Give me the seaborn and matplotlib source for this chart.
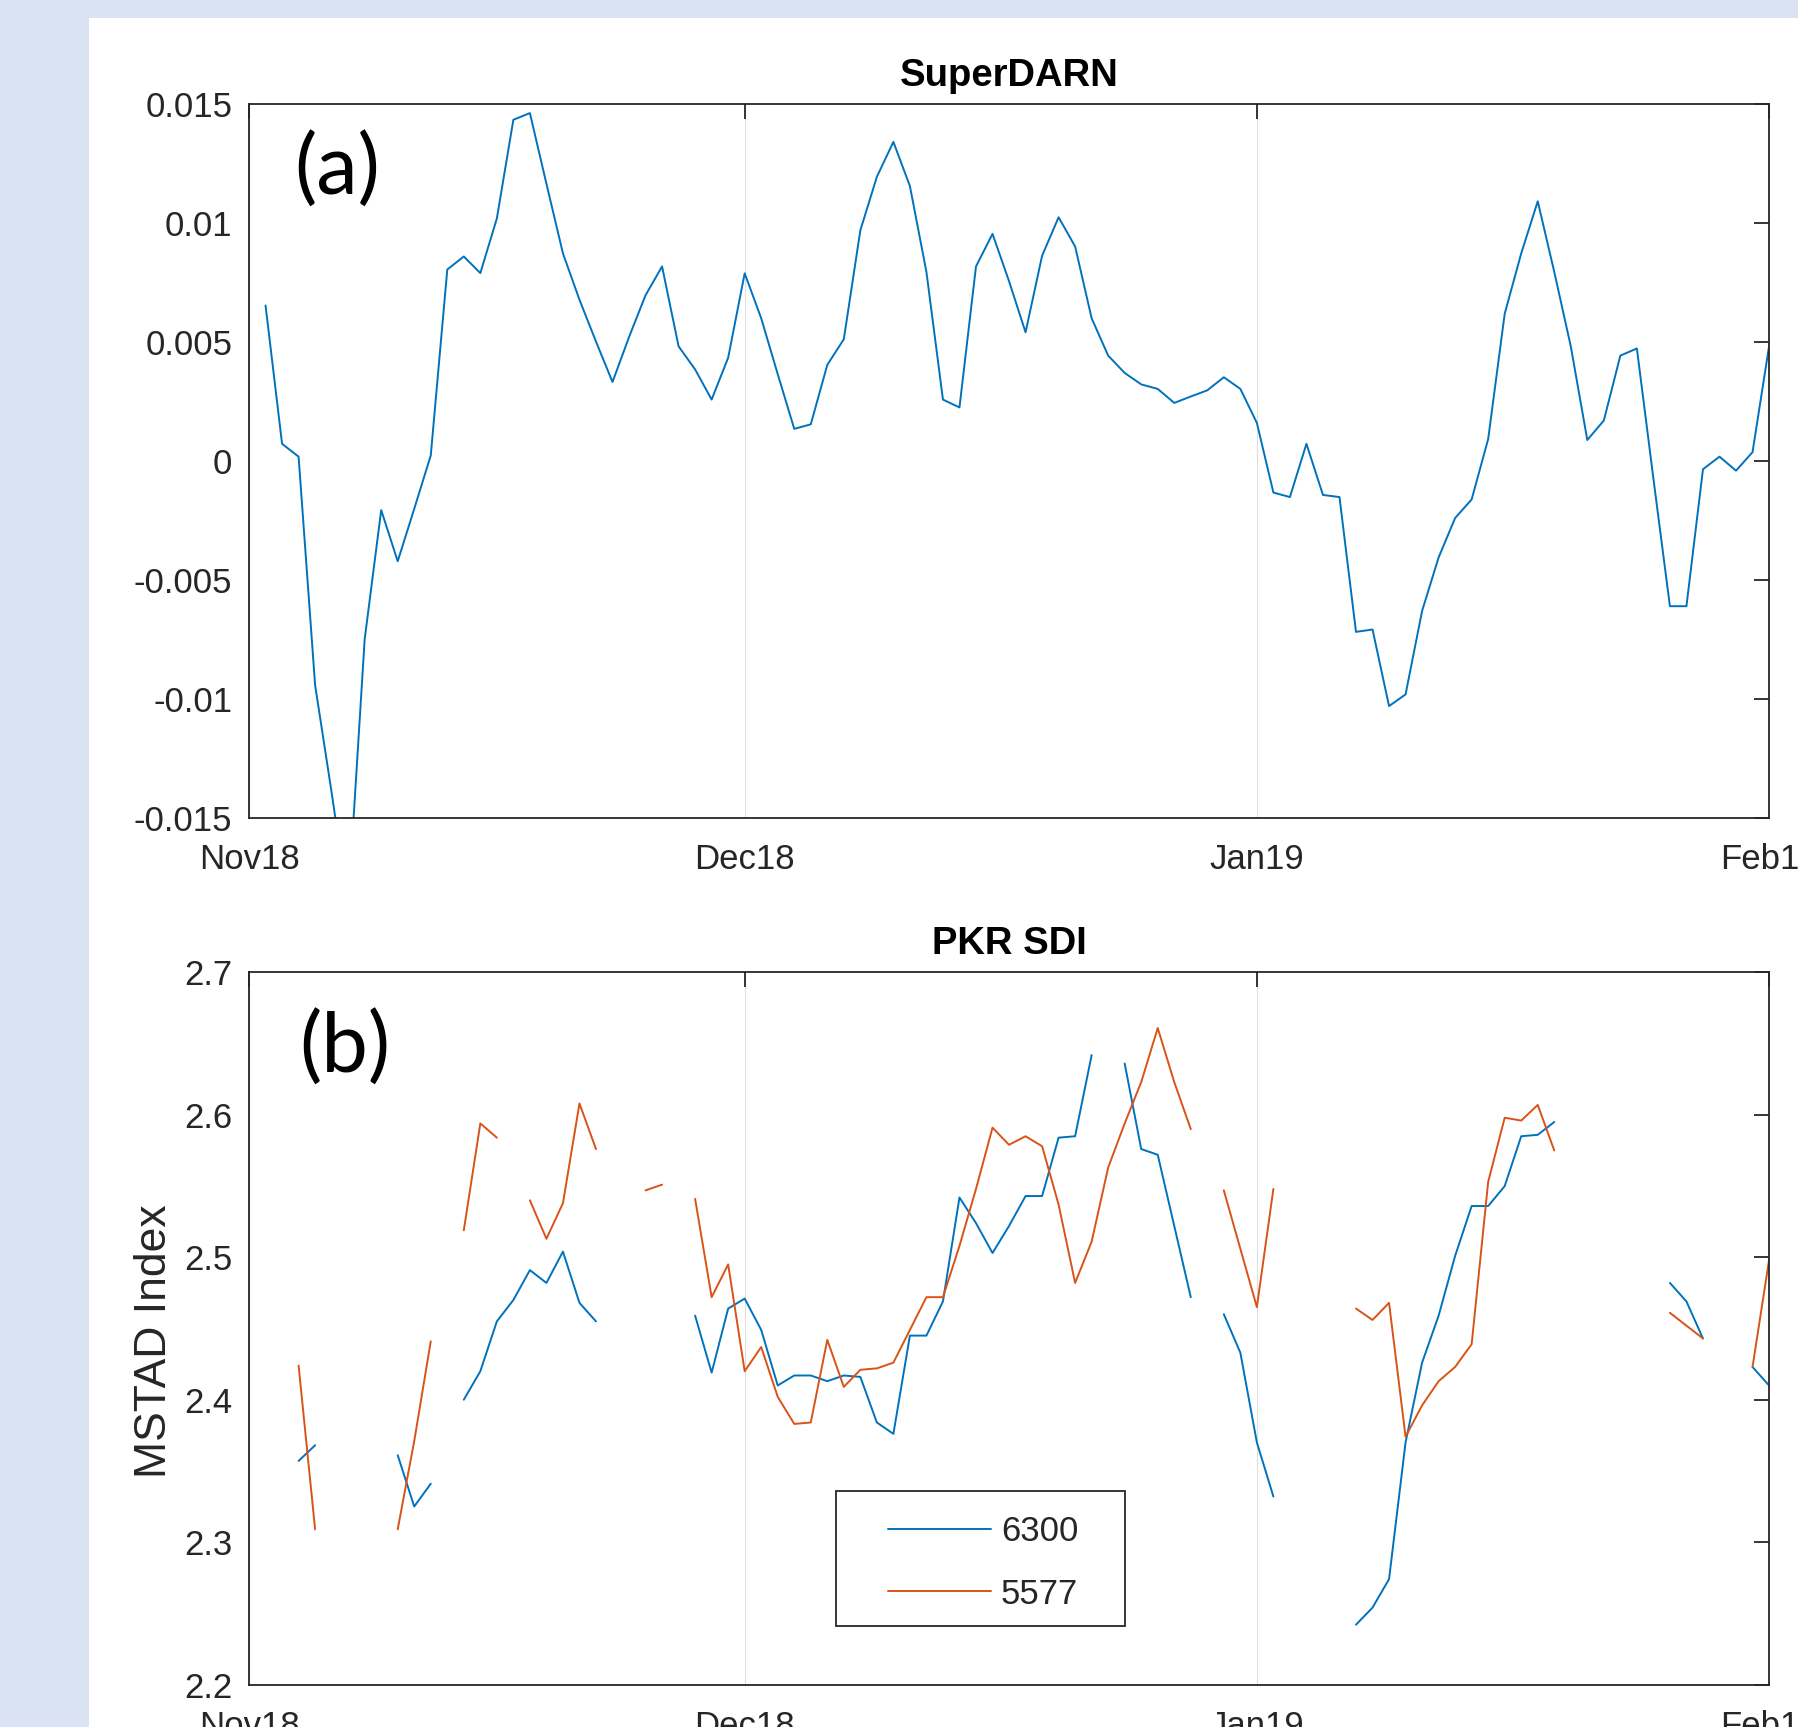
import numpy as np
import pandas as pd
import seaborn as sns
import matplotlib.pyplot as plt
from matplotlib.patches import Rectangle

nan = np.nan

# daily values, 2 Nov 2018 .. 1 Feb 2019
dates = pd.date_range('2018-11-02', periods=92, freq='D')

superdarn = [0.00654, 0.00072, 0.00018, -0.00943, -0.01395, -0.0187, -0.0075, -0.00207, -0.00422, -0.00201,
             0.00023, 0.00805, 0.0086, 0.0079, 0.0102, 0.01435, 0.01463, 0.01166, 0.00873, 0.00678,
             0.00502, 0.00332, 0.00521, 0.00697, 0.00818, 0.00482, 0.00385, 0.00258, 0.00434, 0.00789,
             0.0060, 0.00365, 0.00135, 0.00154, 0.00404, 0.00512, 0.0097, 0.01195, 0.01342, 0.01156,
             0.00795, 0.00258, 0.00225, 0.00818, 0.00955, 0.00756, 0.00541, 0.00863, 0.01025, 0.00902,
             0.0060, 0.00443, 0.0037, 0.00322, 0.00303, 0.00244, 0.00271, 0.00297, 0.00352, 0.00303,
             0.0016, -0.00133, -0.00152, 0.00072, -0.00143, -0.00152, -0.00719, -0.00709, -0.01031, -0.00982,
             -0.00631, -0.00406, -0.0024, -0.00162, 0.00092, 0.00619, 0.00873, 0.01092, 0.00795, 0.00482,
             0.00088, 0.0017, 0.00443, 0.00473, -0.00074, -0.00611, -0.00611, -0.00035, 0.00018, -0.00041,
             0.00037, 0.00482]

mstad_6300 = [nan, nan, 2.357, 2.368, nan, nan, nan, nan, 2.361, 2.325,
              2.341, nan, 2.400, 2.420, 2.455, 2.470, 2.491, 2.482, 2.504, 2.468,
              2.455, nan, nan, nan, nan, nan, 2.459, 2.419, 2.464, 2.471,
              2.449, 2.410, 2.417, 2.417, 2.413, 2.417, 2.416, 2.384, 2.376, 2.445,
              2.445, 2.469, 2.542, 2.524, 2.503, 2.522, 2.543, 2.543, 2.584, 2.585,
              2.642, nan, 2.636, 2.576, 2.572, 2.522, 2.472, nan, 2.460, 2.433,
              2.370, 2.332, nan, nan, nan, nan, 2.242, 2.254, 2.274, 2.370,
              2.426, 2.459, 2.501, 2.536, 2.536, 2.550, 2.585, 2.586, 2.595, nan,
              nan, nan, nan, nan, nan, 2.482, 2.469, 2.443, nan, nan,
              2.423, 2.410]

mstad_5577 = [nan, nan, 2.424, 2.309, nan, nan, nan, nan, 2.309, 2.371,
              2.441, nan, 2.519, 2.594, 2.584, nan, 2.540, 2.513, 2.538, 2.608,
              2.576, nan, nan, 2.547, 2.551, nan, 2.541, 2.472, 2.495, 2.420,
              2.437, 2.402, 2.383, 2.384, 2.442, 2.409, 2.421, 2.422, 2.426, 2.449,
              2.472, 2.472, 2.508, 2.548, 2.591, 2.579, 2.585, 2.578, 2.537, 2.482,
              2.511, 2.563, 2.594, 2.623, 2.661, 2.623, 2.590, nan, 2.547, 2.506,
              2.465, 2.548, nan, nan, nan, nan, 2.464, 2.456, 2.468, 2.374,
              2.396, 2.413, 2.423, 2.439, 2.553, 2.598, 2.596, 2.607, 2.575, nan,
              nan, nan, nan, nan, nan, 2.461, 2.452, 2.443, nan, nan,
              2.423, 2.498]

month_ticks = pd.to_datetime(['2018-11-01', '2018-12-01', '2019-01-01', '2019-02-01'])
month_labels = ['Nov18', 'Dec18', 'Jan19', 'Feb19']
top_yticks = [-0.015, -0.01, -0.005, 0, 0.005, 0.01, 0.015]
top_ylabels = ['-0.015', '-0.01', '-0.005', '0', '0.005', '0.01', '0.015']
bot_yticks = [2.2, 2.3, 2.4, 2.5, 2.6, 2.7]
bot_ylabels = ['2.2', '2.3', '2.4', '2.5', '2.6', '2.7']

BLUE = '#0072BD'
ORANGE = '#D95319'
DARK = '#262626'

sns.set_style('white')
plt.rcParams['font.family'] = ['Liberation Sans', 'DejaVu Sans']

fig = plt.figure(figsize=(17.98, 17.27), dpi=100, facecolor='#dae3f3')
fig.add_artist(Rectangle((0.0497, 0), 1 - 0.0497, 0.9894, transform=fig.transFigure,
                         facecolor='white', edgecolor='none', zorder=-1))

ax1 = fig.add_axes([0.1385, 0.5266, 0.8454, 0.4130])
ax2 = fig.add_axes([0.1385, 0.0246, 0.8454, 0.4123])


def style_axes(ax, yticks, ylabels):
    ax.set_xlim(month_ticks[0], month_ticks[-1])
    ax.set_xticks(month_ticks)
    ax.set_xticklabels(month_labels)
    ax.set_ylim(yticks[0], yticks[-1])
    ax.set_yticks(yticks)
    ax.set_yticklabels(ylabels)
    ax.tick_params(direction='in', length=11, width=1.3, top=True, right=True,
                   labelsize=25, colors=DARK)
    ax.tick_params(axis='x', pad=18)
    ax.tick_params(axis='y', pad=12)
    ax.grid(axis='x', color='#dedede', lw=0.8)
    ax.grid(axis='y', visible=False)
    for s in ax.spines.values():
        s.set_color(DARK)
        s.set_linewidth(1.3)
    ax.set_xlabel('')
    ax.set_ylabel('')


# --------------------------
# (a) SuperDARN
# --------------------------
sns.lineplot(x=dates, y=superdarn, color=BLUE, lw=1.4, ax=ax1)
style_axes(ax1, top_yticks, top_ylabels)
ax1.set_title('SuperDARN', fontsize=27.5, fontweight='bold', pad=13, color='black')
ax1.text(0.030, 0.906, '(a)', transform=ax1.transAxes, fontsize=60, color='black',
         family=['Lato', 'DejaVu Sans'], ha='left', va='center')

# --------------------------
# (b) PKR SDI
# --------------------------
pkr = pd.DataFrame({'date': dates, '6300': mstad_6300, '5577': mstad_5577})
pkr = pkr.melt(id_vars='date', var_name='line', value_name='mstad')
# break the lines at missing days
pkr['seg'] = pkr.groupby('line')['mstad'].transform(lambda s: s.isna().cumsum())
pkr = pkr.dropna()

sns.lineplot(data=pkr, x='date', y='mstad', hue='line', units='seg', estimator=None,
             hue_order=['6300', '5577'], palette={'6300': BLUE, '5577': ORANGE},
             lw=1.4, ax=ax2)
style_axes(ax2, bot_yticks, bot_ylabels)
ax2.set_title('PKR SDI', fontsize=27.5, fontweight='bold', pad=13, color='black')
ax2.set_ylabel('MSTAD Index', fontsize=32, color=DARK)
ax2.yaxis.set_label_coords(-0.049, 0.482)
ax2.text(0.033, 0.892, '(b)', transform=ax2.transAxes, fontsize=60, color='black',
         family=['Lato', 'DejaVu Sans'], ha='left', va='center')

# legend box (MATLAB style, square frame)
ax2.add_patch(Rectangle((0.386, 0.082), 0.19, 0.19, transform=ax2.transAxes,
                        facecolor='white', edgecolor=DARK, lw=1.3, zorder=4))
handles, labels = ax2.get_legend_handles_labels()
leg = ax2.legend(handles, labels, loc='center', bbox_to_anchor=(0.483, 0.171),
                 fontsize=25, handlelength=2.95, handletextpad=0.3, borderpad=0.2,
                 labelspacing=0.85, frameon=False)
leg.set_zorder(5)
for t in leg.get_texts():
    t.set_color(DARK)
for h in leg.legend_handles:
    h.set_linewidth(1.4)

fig.savefig('out.png', dpi=100, facecolor=fig.get_facecolor())
